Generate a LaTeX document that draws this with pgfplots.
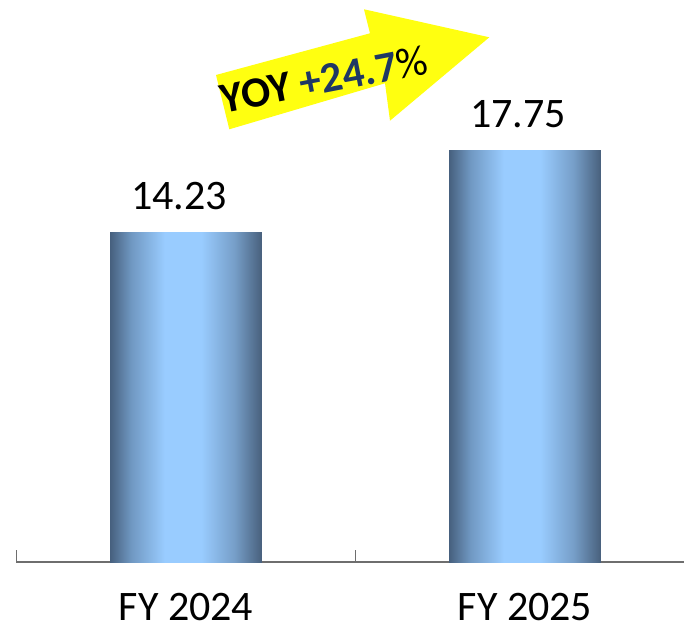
\documentclass[border=0pt]{standalone}
\usepackage{pgfplots}
\pgfplotsset{compat=1.18}
\usepackage{fontspec}
\setmainfont{Carlito}
\definecolor{edgeL}{RGB}{70,96,126}
\definecolor{midL}{RGB}{112,152,194}
\definecolor{lightc}{RGB}{153,204,255}
\definecolor{midR}{RGB}{118,158,200}
\definecolor{edgeR}{RGB}{72,96,124}
\definecolor{navy}{RGB}{31,56,100}
\definecolor{arrowyellow}{RGB}{255,255,16}
\definecolor{axisgray}{RGB}{110,110,110}
\pgfdeclarehorizontalshading{barshade}{100bp}{color(0bp)=(edgeL); color(25bp)=(edgeL); color(32bp)=(midL); color(43bp)=(lightc); color(55bp)=(lightc); color(66bp)=(midR); color(75bp)=(edgeR); color(100bp)=(edgeR)}
\begin{document}
\begin{tikzpicture}
\useasboundingbox (-16.5pt,-61pt) rectangle (667.5pt,562pt);
\begin{axis}[
  at={(0,0)}, anchor=south west,
  x=339pt, y=23.19pt,
  xmin=-0.5, xmax=1.469,
  ymin=0, ymax=24,
  clip=false,
  axis x line*=bottom,
  axis y line=none,
  axis line style={axisgray, line width=1.3pt},
  xtick={0,1},
  xticklabels={FY 2024, FY 2025},
  major tick length=0pt,
  extra x ticks={-0.5,0.5},
  extra x tick labels={},
  extra x tick style={major tick length=12pt, tick align=inside, tick style={axisgray, line width=1.1pt}},
  xticklabel style={anchor=base, yshift=-58pt, font=\fontsize{42}{48}\selectfont},
  point meta=explicit symbolic,
  nodes near coords,
  nodes near coords style={anchor=base, yshift=23pt, xshift=-7pt, font=\fontsize{42}{48}\selectfont, text=black},
]
\addplot[ybar, bar width=0.448, bar shift=0pt, draw=none, shade, shading=barshade]
  coordinates {(0,14.23) [14.23]};
\addplot[ybar, bar width=0.448, bar shift=0pt, draw=none, shade, shading=barshade]
  coordinates {(1,17.75) [17.75]};
\end{axis}
\begin{scope}[x=1pt,y=-1pt,shift={(-16.5pt,562pt)}]
\fill[arrowyellow] (216,75) -- (370,33.3) -- (364,9.3) -- (489.3,37.3) -- (390,120.7) -- (385,83.3) -- (229.3,129.3) -- cycle;
\node[rotate=11, font=\bfseries\fontsize{43}{48}\selectfont, inner sep=0pt] at (324,79) {YOY {\color{navy}+24.7}{\mdseries\%}};
\end{scope}
\end{tikzpicture}
\end{document}
